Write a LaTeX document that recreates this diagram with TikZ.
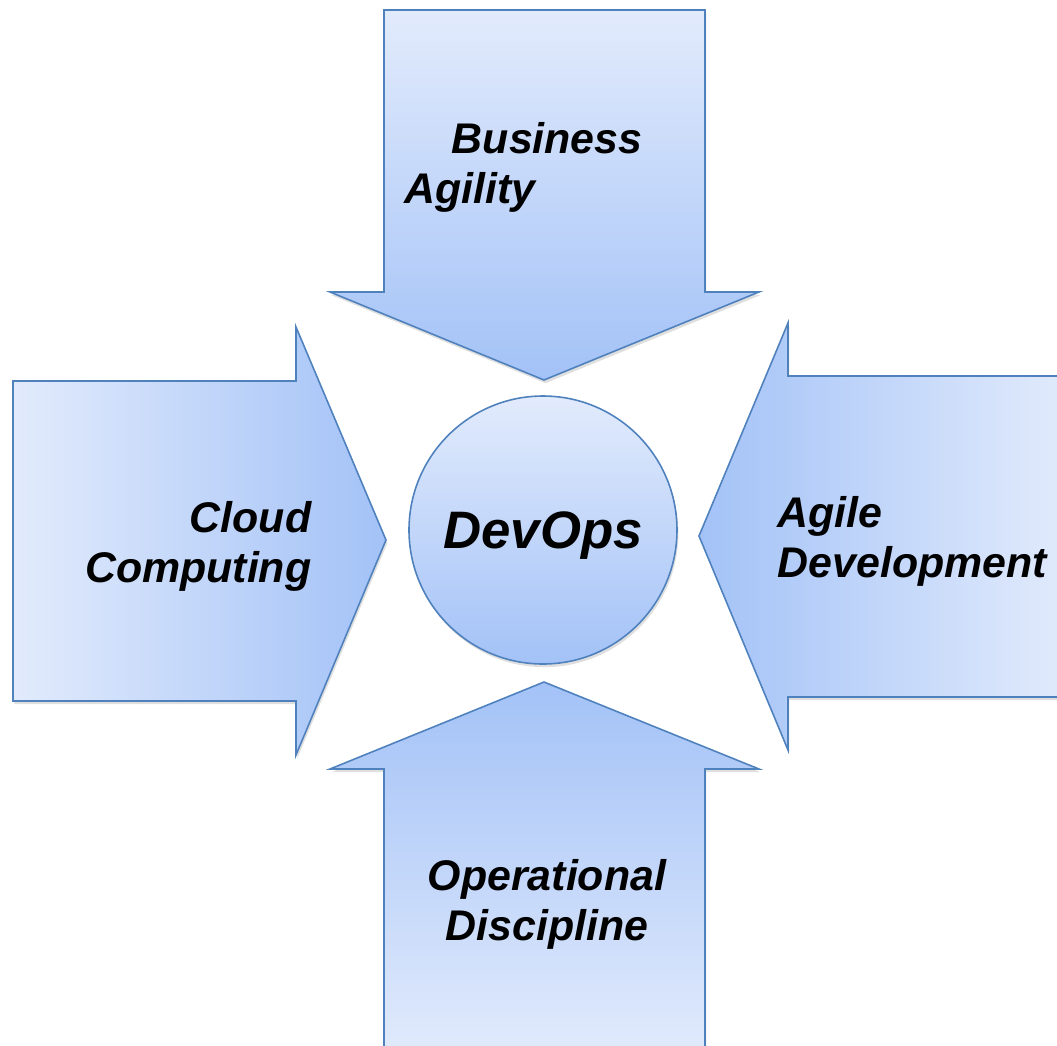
\documentclass[tikz,border=0pt]{standalone}
\usepackage{fontspec}
\setmainfont{Liberation Sans}
\usetikzlibrary{shadows}

\definecolor{arrowlight}{RGB}{226,235,252}
\definecolor{arrowdark}{RGB}{163,194,247}
\definecolor{arrowline}{RGB}{79,129,189}

\tikzset{
  bigarrow/.style={draw=arrowline, line width=0.45pt, line join=miter,
    drop shadow={opacity=0.25, shadow xshift=0.4pt, shadow yshift=-0.9pt}},
  arrowtext/.style={font=\fontsize{12.2}{14.2}\selectfont\bfseries\itshape, inner sep=0pt}
}

\begin{document}
\begin{tikzpicture}[x=0.1mm,y=-0.1mm]
\useasboundingbox (0,0) rectangle (1057,1046);
\clip (0,0) rectangle (1057,1046);

% four arrows pointing in
\draw[bigarrow, top color=arrowlight, bottom color=arrowdark]
  (384,10) -- (705,10) -- (705,292) -- (759,292) -- (544,380) -- (330,292) -- (384,292) -- cycle;
\draw[bigarrow, left color=arrowlight, right color=arrowdark]
  (13,381) -- (296,381) -- (296,327) -- (386,540) -- (296,755) -- (296,701) -- (13,701) -- cycle;
\draw[bigarrow, left color=arrowdark, right color=arrowlight]
  (1070,376) -- (788,376) -- (788,323) -- (699,536) -- (788,750) -- (788,697) -- (1070,697) -- cycle;
\draw[bigarrow, top color=arrowdark, bottom color=arrowlight]
  (544,682) -- (759,769) -- (705,769) -- (705,1060) -- (384,1060) -- (384,769) -- (330,769) -- cycle;

% centre
\node[bigarrow, circle, minimum size=2.68cm, inner sep=0pt, top color=arrowlight, bottom color=arrowdark,
  font=\fontsize{15}{18}\selectfont\bfseries\itshape, text depth=0pt] (devops) at (543,530) {DevOps};

\node[arrowtext, anchor=west, align=left] (business) at (404,167) {\hspace*{1.1em}Business\\Agility};
\node[arrowtext, anchor=east, align=right] (cloud) at (312,546) {Cloud\\Computing};
\node[arrowtext, anchor=west, align=left] (agile) at (777,541) {Agile\\Development};
\node[arrowtext, align=center] (operational) at (547,904) {Operational\\Discipline};
\end{tikzpicture}
\end{document}
